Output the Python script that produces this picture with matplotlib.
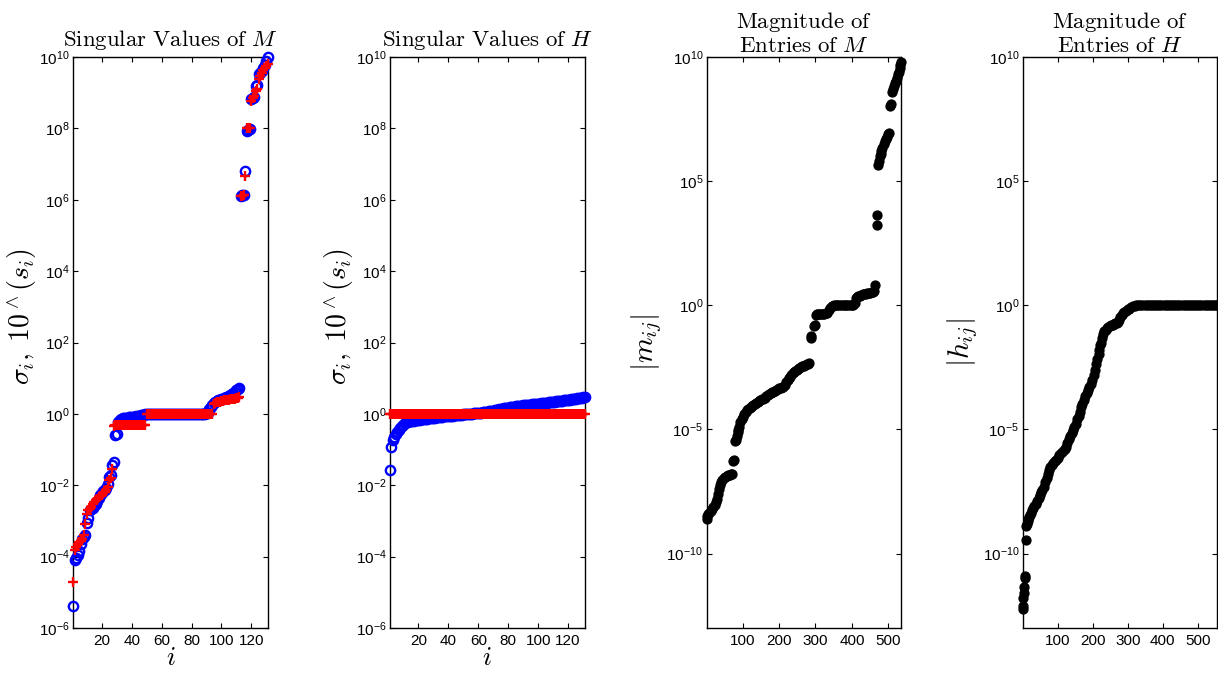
import numpy as np
import matplotlib
matplotlib.use('Agg')
import matplotlib.pyplot as plt
from matplotlib.ticker import FixedLocator, FixedFormatter, NullLocator

plt.rcParams['font.family'] = ['Liberation Sans', 'DejaVu Sans']
plt.rcParams['mathtext.fontset'] = 'custom'
plt.rcParams['mathtext.rm'] = 'Liberation Sans'
plt.rcParams['mathtext.it'] = 'Liberation Sans:italic'
plt.rcParams['mathtext.bf'] = 'Liberation Sans:bold'

# ---------------- data ----------------
# Panel 1: singular values of M (blue) and 10^(s_i) (red), i = 1..131
sigma_M = [4.2e-6, 8e-5, 9e-5, 1.1e-4, 1.4e-4, 2.2e-4, 3.2e-4, 3.6e-4, 4e-4, 9e-4,
           1.2e-3, 2e-3, 2.1e-3, 2.3e-3, 2.6e-3, 3e-3, 3.6e-3, 4.5e-3, 5.5e-3, 6.2e-3,
           6.8e-3, 7.5e-3, 8.5e-3, 1.1e-2, 1.7e-2, 1.9e-2, 3.8e-2, 4.5e-2, 0.25, 0.27,
           0.6, 0.68, 0.72, 0.75, 0.77, 0.78, 0.79, 0.8, 0.8, 0.81,
           0.82, 0.83, 0.85, 0.87, 0.9, 0.92, 0.94, 0.96, 0.97, 0.98,
           0.98, 0.99, 0.99, 0.99, 1.0, 1.0, 1.0, 1.0, 1.0, 1.0,
           1.0, 1.0, 1.0, 1.0, 1.0, 1.0, 1.0, 1.0, 1.0, 1.0,
           1.0, 1.0, 1.0, 1.0, 1.0, 1.0, 1.0, 1.0, 1.0, 1.0,
           1.0, 1.0, 1.0, 1.0, 1.0, 1.0, 1.01, 1.01, 1.02, 1.03, 1.05,
           1.4, 1.6, 1.8, 2.0, 2.2, 2.3, 2.4, 2.5, 2.6, 2.7,
           2.8, 2.9, 3.0, 3.2, 3.4, 3.6, 3.8, 4.2, 4.8, 5.0, 5.3,
           1.3e6, 1.35e6, 1.4e6, 6.5e6, 8.5e7, 9e7, 9.5e7, 6.5e8, 7e8, 7.5e8,
           1.5e9, 1.6e9, 3.3e9, 3.6e9, 4e9, 5e9, 5.8e9, 7.5e9, 1e10]
pow_s_M = [1.9e-5, 1.5e-4, 1.9e-4, 2.2e-4, 2.5e-4, 2.8e-4, 3.2e-4, 4e-4, 8e-4, 1.6e-3,
           2e-3, 2.2e-3, 2.5e-3, 3e-3, 3.4e-3, 3.8e-3, 4.2e-3, 4.6e-3, 5e-3, 5.5e-3,
           6e-3, 6.5e-3, 7.5e-3, 9e-3, 1.4e-2, 1.6e-2, 2.8e-2,
           0.47, 0.48, 0.48, 0.49, 0.49, 0.49, 0.49, 0.49, 0.49, 0.49, 0.49, 0.49,
           0.49, 0.49, 0.49, 0.5, 0.5, 0.5, 0.5, 0.5, 0.5, 0.5,
           0.98, 0.99, 0.99, 1.0, 1.0, 1.0, 1.0, 1.0, 1.0, 1.0,
           1.0, 1.0, 1.0, 1.0, 1.0, 1.0, 1.0, 1.0, 1.0, 1.0,
           1.0, 1.0, 1.0, 1.0, 1.0, 1.0, 1.0, 1.0, 1.0, 1.0,
           1.0, 1.0, 1.0, 1.0, 1.0, 1.0, 1.0, 1.0, 1.0, 1.0,
           1.0, 1.0, 1.0, 1.0, 1.0,
           1.9, 2.0, 2.1, 2.1, 2.2, 2.3, 2.3, 2.4, 2.4, 2.5,
           2.5, 2.6, 2.6, 2.7, 2.7, 2.8, 2.8, 2.9,
           1.3e6, 1.3e6, 1.4e6, 4.5e6, 1e8, 1e8, 1.05e8, 6e8, 7e8, 8e8,
           1.1e9, 1.3e9, 2.5e9, 3e9, 3.5e9, 4.2e9, 5e9, 5.5e9, 6.5e9]

# Panel 2: singular values of H (blue) and 10^(s_i) (red)
sigma_H = [0.027, 0.12, 0.19, 0.23, 0.27, 0.31, 0.35, 0.4, 0.45, 0.5,
           0.55, 0.58, 0.6, 0.62, 0.63, 0.64, 0.65, 0.66, 0.67, 0.68,
           0.69, 0.7, 0.71, 0.72, 0.73, 0.74, 0.75, 0.76, 0.77, 0.78,
           0.79, 0.8, 0.81, 0.82, 0.83, 0.84, 0.85, 0.86, 0.86, 0.87,
           0.88, 0.89, 0.9, 0.91, 0.92, 0.93, 0.94, 0.95, 0.96, 0.97,
           0.98, 0.99, 1.0, 1.0, 1.01, 1.02, 1.03, 1.04, 1.05, 1.06,
           1.07, 1.08, 1.1, 1.12, 1.14, 1.16, 1.18, 1.2, 1.22, 1.24,
           1.26, 1.28, 1.3, 1.33, 1.36, 1.39, 1.42, 1.45, 1.48, 1.5,
           1.53, 1.56, 1.58, 1.6, 1.62, 1.64, 1.66, 1.68, 1.7, 1.72,
           1.74, 1.76, 1.78, 1.8, 1.82, 1.84, 1.86, 1.88, 1.9, 1.92,
           1.94, 1.96, 1.98, 2.0, 2.03, 2.06, 2.09, 2.12, 2.15, 2.18,
           2.21, 2.24, 2.27, 2.3, 2.33, 2.36, 2.39, 2.42, 2.45, 2.48,
           2.52, 2.56, 2.6, 2.64, 2.68, 2.72, 2.76, 2.8, 2.85, 2.9, 3.0]
pow_s_H = [1.0, 1.0, 1.0, 1.0, 1.0, 1.0, 1.0, 1.0, 1.0, 1.0,
           1.0, 1.0, 1.0, 1.0, 1.0, 1.0, 1.0, 1.0, 1.0, 1.0,
           1.0, 1.0, 1.0, 1.0, 1.0, 1.0, 1.0, 1.0, 1.0, 1.0,
           1.0, 1.0, 1.0, 1.0, 1.0, 1.0, 1.0, 1.0, 1.0, 1.0,
           1.0, 1.0, 1.0, 1.0, 1.0, 1.0, 1.0, 1.0, 1.0, 1.0,
           1.0, 1.0, 1.0, 1.0, 1.0, 1.0, 1.0, 1.0, 1.0, 1.0,
           1.0, 1.0, 1.0, 1.0, 1.0, 1.0, 1.0, 1.0, 1.0, 1.0,
           1.0, 1.0, 1.0, 1.0, 1.0, 1.0, 1.0, 1.0, 1.0, 1.0,
           1.0, 1.0, 1.0, 1.0, 1.0, 1.0, 1.0, 1.0, 1.0, 1.0,
           1.0, 1.0, 1.0, 1.0, 1.0, 1.0, 1.0, 1.0, 1.0, 1.0,
           1.0, 1.0, 1.0, 1.0, 1.0, 1.0, 1.0, 1.0, 1.0, 1.0,
           1.0, 1.0, 1.0, 1.0, 1.0, 1.0, 1.0, 1.0, 1.0, 1.0,
           1.0, 1.0, 1.0, 1.0, 1.0, 1.0, 1.0, 1.0, 1.0, 1.0, 1.0]

# Panel 3: sorted magnitudes of entries of M (entry index, log10 |m_ij|)
m_index = [1, 3, 6, 9, 12, 15, 19, 23, 27, 30, 33, 36, 38, 41, 44, 48, 52, 56, 60, 64,
           68, 70, 73, 75, 79, 81, 84, 86, 88, 91, 94, 97, 100, 104, 108, 111, 115, 119,
           123, 126, 129, 133, 137, 141, 145, 149, 153, 157, 161, 165, 169, 173, 177,
           181, 184, 188, 192, 196, 200, 204, 208, 212, 216, 220, 224, 227, 230, 234,
           238, 242, 245, 248, 252, 256, 260, 264, 268, 272, 276, 280, 283,
           287, 289, 297, 299, 302, 304, 308, 312, 316, 320, 324, 328, 332, 336, 340,
           344, 348, 352, 356, 360, 365, 370, 375, 380, 385, 390, 395, 400, 404,
           408, 411, 414, 418, 422, 426, 430, 434, 438, 442, 446, 450, 454, 458, 460,
           464, 468, 470, 473, 475, 477, 479, 481, 484, 487, 490, 493, 496, 499, 501,
           505, 507, 510, 512, 515, 518, 520, 523, 526, 528, 531, 533, 535]
m_log10 = [-8.6, -8.47, -8.42, -8.36, -8.3, -8.22, -8.13, -8.05, -7.92, -7.8,
           -7.62, -7.42, -7.25, -7.1, -7.02, -6.96, -6.92, -6.88, -6.85, -6.82,
           -6.8, -6.78, -6.27, -6.22, -5.45, -5.42, -5.25, -5.1, -5.04, -4.9,
           -4.72, -4.57, -4.48, -4.38, -4.3, -4.23, -4.17, -4.12, -4.08, -4.05,
           -4.03, -3.99, -3.94, -3.9, -3.86, -3.82, -3.79, -3.76, -3.72, -3.67,
           -3.62, -3.57, -3.54, -3.51, -3.5, -3.46, -3.42, -3.38, -3.35, -3.33,
           -3.31, -3.29, -3.2, -3.1, -3.0, -2.94, -2.89, -2.8, -2.72, -2.68,
           -2.65, -2.62, -2.58, -2.54, -2.5, -2.46, -2.43, -2.4, -2.38, -2.36, -2.32,
           -1.32, -1.25, -0.82, -0.79, -0.4, -0.35, -0.34, -0.34, -0.34, -0.34,
           -0.34, -0.33, -0.3, -0.2, -0.1, -0.04, -0.01, 0.0, 0.0, 0.0,
           0.0, 0.0, 0.0, 0.0, 0.0, 0.0, 0.0, 0.0, 0.0,
           0.1, 0.28, 0.33, 0.36, 0.39, 0.42, 0.44, 0.46, 0.47, 0.48,
           0.49, 0.5, 0.52, 0.55, 0.58,
           0.82, 3.22, 3.62, 5.65, 5.8, 6.0, 6.1, 6.2, 6.32, 6.5,
           6.6, 6.68, 6.78, 6.88, 6.93,
           8.02, 8.1, 8.6, 8.7, 8.82, 8.95, 9.02, 9.15, 9.3, 9.4,
           9.55, 9.68, 9.82]

# Panel 4: sorted magnitudes of entries of H (entry index, log10 |h_ij|)
h_index = [1, 2, 3, 4, 5, 6, 7, 9, 11, 13, 15, 17, 19, 22, 25, 28, 31, 34, 38, 42,
           46, 50, 54, 57, 61, 65, 69, 73, 76, 80, 84, 88, 92, 95, 100, 105, 110,
           115, 120, 124, 128, 132, 136, 140, 144, 148, 152, 156, 160, 164, 168,
           171, 175, 179, 183, 187, 191, 195, 199, 203, 206, 210, 213, 217, 219,
           221, 223, 226, 229, 233, 237, 241, 245, 249, 253, 257, 261, 265, 268,
           271, 275, 279, 283, 286, 290, 295, 300, 305, 310, 315, 320, 324,
           330, 336, 342, 348, 354, 360, 366, 372, 378, 384, 390, 396, 402, 408,
           414, 420, 426, 432, 438, 444, 450, 456, 462, 468, 474, 480, 486, 492,
           498, 504, 510, 516, 522, 528, 534, 540, 546, 552, 555]
h_log10 = [-12.25, -12.1, -11.8, -11.6, -11.35, -11.0, -10.92, -9.45, -8.9, -8.8,
           -8.7, -8.6, -8.54, -8.45, -8.35, -8.25, -8.17, -8.1, -8.0, -7.9,
           -7.78, -7.65, -7.53, -7.46, -7.3, -7.1, -6.95, -6.78, -6.65, -6.5,
           -6.42, -6.35, -6.29, -6.25, -6.15, -6.03, -5.95, -5.88, -5.78, -5.71,
           -5.55, -5.4, -5.27, -5.15, -5.02, -4.9, -4.77, -4.6, -4.45, -4.28,
           -4.1, -3.96, -3.8, -3.66, -3.55, -3.43, -3.3, -3.16, -3.0, -2.8,
           -2.6, -2.35, -2.15, -1.95, -1.8, -1.61, -1.5, -1.3, -1.14, -1.05,
           -0.98, -0.92, -0.87, -0.84, -0.81, -0.78, -0.75, -0.72, -0.7, -0.67,
           -0.58, -0.48, -0.39, -0.33, -0.27, -0.21, -0.16, -0.13, -0.08, -0.04,
           -0.01, 0.0,
           0.0, 0.0, 0.0, 0.0, 0.0, 0.0, 0.0, 0.0, 0.0, 0.0,
           0.0, 0.0, 0.0, 0.0, 0.0, 0.0, 0.0, 0.0, 0.0, 0.0,
           0.0, 0.0, 0.0, 0.0, 0.0, 0.0, 0.0, 0.0, 0.0, 0.0,
           0.0, 0.0, 0.0, 0.0, 0.0, 0.0, 0.0, 0.0, 0.0]

# axis ticks
sv_xticks = [20, 40, 60, 80, 100, 120]
sv_yexps = [-6, -4, -2, 0, 2, 4, 6, 8, 10]
ent_xticks = [100, 200, 300, 400, 500]
ent_yexps = [-10, -5, 0, 5, 10]

# ---------------- figure ----------------
fig = plt.figure(figsize=(12.18, 6.75), dpi=100)
W, B, H = 0.1597, 0.0696, 0.8459
lefts = [0.0602, 0.3202, 0.5801, 0.8397]
axs = [fig.add_axes([l, B, W, H]) for l in lefts]

CM = dict(math_fontfamily='cm')
TITLE_FS = 16.5
YLAB_FS = 20


def style(ax, xticks, yexps):
    ax.set_yscale('log')
    ax.yaxis.set_major_locator(FixedLocator([10.0 ** e for e in yexps]))
    ax.yaxis.set_major_formatter(FixedFormatter(
        [r'$\mathregular{10^{%d}}$' % e for e in yexps]))
    ax.yaxis.set_minor_locator(NullLocator())
    ax.set_xticks(xticks)
    ax.set_xticklabels([str(t) for t in xticks])
    ax.tick_params(which='both', direction='in', top=True, right=True,
                   length=3.6, width=0.8, labelsize=11, colors='black')
    ax.tick_params(axis='y', pad=2.5)
    ax.tick_params(axis='x', pad=4)
    for s in ax.spines.values():
        s.set_linewidth(1.0)
        s.set_zorder(1)


# Panel 1
ax = axs[0]
i_M = np.arange(1, len(sigma_M) + 1)
ax.plot(i_M, sigma_M, 'o', mfc='none', mec='blue', ms=6.7, mew=1.7, clip_on=False, zorder=3)
ax.plot(np.arange(1, len(pow_s_M) + 1), pow_s_M, '+', color='red', ms=7, mew=1.7,
        clip_on=False, zorder=4)
style(ax, sv_xticks, sv_yexps)
ax.set_xlim(1, len(sigma_M))
ax.set_ylim(1e-6, 1e10)
ax.set_title(r'$\mathrm{Singular\ Values\ of}\ M$', fontsize=TITLE_FS, pad=8, **CM)
ax.set_ylabel(r'$\sigma_i,\;10^\wedge(s_i)$', fontsize=YLAB_FS, va='center', **CM)
ax.yaxis.set_label_coords(-0.26, 0.545)
ax.set_xlabel(r'$i$', fontsize=19, labelpad=-1, **CM)

# Panel 2
ax = axs[1]
i_H = np.arange(1, len(sigma_H) + 1)
ax.plot(i_H, sigma_H, 'o', mfc='none', mec='blue', ms=6.7, mew=1.7, clip_on=False, zorder=3)
ax.plot(np.arange(1, len(pow_s_H) + 1), pow_s_H, '+', color='red', ms=7, mew=1.7,
        clip_on=False, zorder=4)
style(ax, sv_xticks, sv_yexps)
ax.set_xlim(1, len(sigma_H))
ax.set_ylim(1e-6, 1e10)
ax.set_title(r'$\mathrm{Singular\ Values\ of}\ H$', fontsize=TITLE_FS, pad=8, **CM)
ax.set_ylabel(r'$\sigma_i,\;10^\wedge(s_i)$', fontsize=YLAB_FS, va='center', **CM)
ax.yaxis.set_label_coords(-0.26, 0.545)
ax.set_xlabel(r'$i$', fontsize=19, labelpad=-1, **CM)

# Panel 3
ax = axs[2]
ax.plot(m_index, 10.0 ** np.array(m_log10), 'o', color='black', ms=6.4,
        clip_on=False, zorder=3)
style(ax, ent_xticks, ent_yexps)
ax.set_xlim(1, 535)
ax.set_ylim(1e-13, 1e10)
ax.set_title(r'$\mathrm{Magnitude\ of}$' + '\n' + r'$\mathrm{Entries\ of}\ M$',
             fontsize=TITLE_FS, pad=3, linespacing=1.0, **CM)
ax.set_ylabel(r'$|m_{ij}|$', fontsize=21, va='center', **CM)
ax.yaxis.set_label_coords(-0.31, 0.5)

# Panel 4
ax = axs[3]
ax.plot(h_index, 10.0 ** np.array(h_log10), 'o', color='black', ms=6.4,
        clip_on=False, zorder=3)
style(ax, ent_xticks, ent_yexps)
ax.set_xlim(1, 555)
ax.set_ylim(1e-13, 1e10)
ax.set_title(r'$\mathrm{Magnitude\ of}$' + '\n' + r'$\mathrm{Entries\ of}\ H$',
             fontsize=TITLE_FS, pad=3, linespacing=1.0, **CM)
ax.set_ylabel(r'$|h_{ij}|$', fontsize=21, va='center', **CM)
ax.yaxis.set_label_coords(-0.31, 0.5)

fig.savefig('out.png', dpi=100)
